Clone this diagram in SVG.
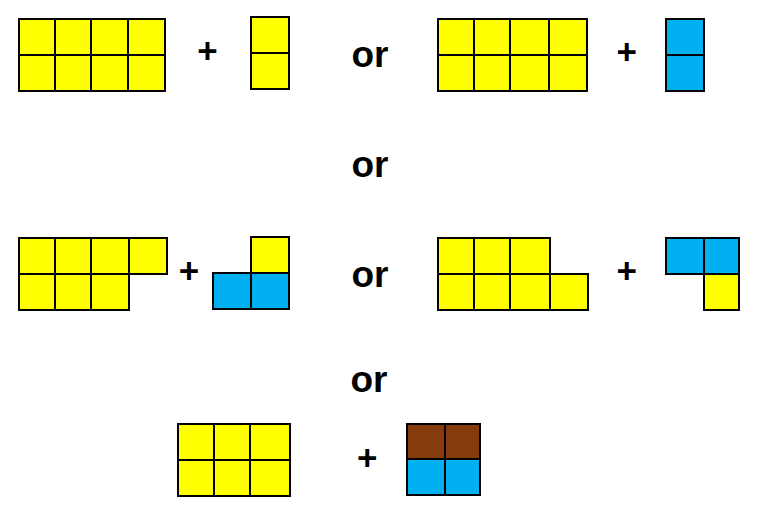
<svg xmlns="http://www.w3.org/2000/svg" width="764" height="522" viewBox="0 0 764 522">
<style>
.y{fill:#ffff00;stroke:#000;stroke-width:2}
.b{fill:#00b0f0;stroke:#000;stroke-width:2}
.br{fill:#843c0c;stroke:#000;stroke-width:2}
.t{font-family:"Liberation Sans",Arial,sans-serif;font-weight:bold;fill:#000;text-anchor:middle}
.or{font-size:37px}
.p{font-size:35px}
</style>
<rect width="764" height="522" fill="#fff"/>
<g id="row1-left">
<rect class="y" x="19" y="19" width="36" height="36"/><rect class="y" x="55" y="19" width="36" height="36"/><rect class="y" x="91" y="19" width="37" height="36"/><rect class="y" x="128" y="19" width="37" height="36"/>
<rect class="y" x="19" y="55" width="36" height="36"/><rect class="y" x="55" y="55" width="36" height="36"/><rect class="y" x="91" y="55" width="37" height="36"/><rect class="y" x="128" y="55" width="37" height="36"/>
</g>
<g id="row1-left-piece">
<rect class="y" x="251" y="17" width="38" height="36"/><rect class="y" x="251" y="53" width="38" height="36"/>
</g>
<g id="row1-right">
<rect class="y" x="438" y="19" width="36" height="36"/><rect class="y" x="474" y="19" width="36" height="36"/><rect class="y" x="510" y="19" width="39" height="36"/><rect class="y" x="549" y="19" width="38" height="36"/>
<rect class="y" x="438" y="55" width="36" height="36"/><rect class="y" x="474" y="55" width="36" height="36"/><rect class="y" x="510" y="55" width="39" height="36"/><rect class="y" x="549" y="55" width="38" height="36"/>
</g>
<g id="row1-right-piece">
<rect class="b" x="666" y="19" width="38" height="36"/><rect class="b" x="666" y="55" width="38" height="36"/>
</g>
<g id="row2-left">
<rect class="y" x="19" y="238" width="36" height="36"/><rect class="y" x="55" y="238" width="36" height="36"/><rect class="y" x="91" y="238" width="38" height="36"/><rect class="y" x="129" y="238" width="38" height="36"/>
<rect class="y" x="19" y="274" width="36" height="36"/><rect class="y" x="55" y="274" width="36" height="36"/><rect class="y" x="91" y="274" width="38" height="36"/>
</g>
<g id="row2-left-piece">
<rect class="y" x="251" y="237" width="38" height="36"/>
<rect class="b" x="213" y="273" width="38" height="36"/><rect class="b" x="251" y="273" width="38" height="36"/>
</g>
<g id="row2-right">
<rect class="y" x="438" y="238" width="36" height="36"/><rect class="y" x="474" y="238" width="36" height="36"/><rect class="y" x="510" y="238" width="40" height="36"/>
<rect class="y" x="438" y="274" width="36" height="36"/><rect class="y" x="474" y="274" width="36" height="36"/><rect class="y" x="510" y="274" width="40" height="36"/><rect class="y" x="550" y="274" width="38" height="36"/>
</g>
<g id="row2-right-piece">
<rect class="b" x="666" y="238" width="38" height="36"/><rect class="b" x="704" y="238" width="35" height="36"/>
<rect class="y" x="704" y="274" width="35" height="36"/>
</g>
<g id="row3-left">
<rect class="y" x="178" y="424" width="36" height="36"/><rect class="y" x="214" y="424" width="36" height="36"/><rect class="y" x="250" y="424" width="40" height="36"/>
<rect class="y" x="178" y="460" width="36" height="36"/><rect class="y" x="214" y="460" width="36" height="36"/><rect class="y" x="250" y="460" width="40" height="36"/>
</g>
<g id="row3-right-piece">
<rect class="br" x="407" y="424" width="38" height="35"/><rect class="br" x="445" y="424" width="35" height="35"/>
<rect class="b" x="407" y="459" width="38" height="36"/><rect class="b" x="445" y="459" width="35" height="36"/>
</g>
<g id="labels">
<text class="t p" x="207.5" y="63">+</text>
<text class="t p" x="626.7" y="64">+</text>
<text class="t p" x="189" y="283">+</text>
<text class="t p" x="626.7" y="283">+</text>
<text class="t p" x="367.3" y="470">+</text>
<text class="t or" x="370" y="67">or</text>
<text class="t or" x="370" y="177">or</text>
<text class="t or" x="370" y="287">or</text>
<text class="t or" x="369" y="392">or</text>
</g>
</svg>
